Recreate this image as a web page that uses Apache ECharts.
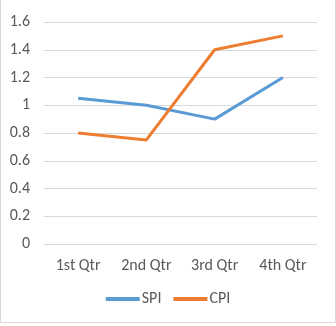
<!DOCTYPE html>
<html><head><meta charset="utf-8">
<script src="https://cdn.jsdelivr.net/npm/echarts@6/dist/echarts.min.js"></script>
<style>
html,body{margin:0;padding:0;background:#fff;}
#frame{position:absolute;left:0;top:-2px;width:334px;height:323px;border:1px solid #d9d9d9;box-sizing:content-box;}
#c{position:absolute;left:0;top:0;width:336px;height:326px;}
</style></head>
<body>
<div id="frame"></div>
<div id="c"></div>
<script>
const categories = ['1st Qtr', '2nd Qtr', '3rd Qtr', '4th Qtr'];
const spi = [1.05, 1.0, 0.9, 1.2];
const cpi = [0.8, 0.75, 1.4, 1.5];
const yTicks = { min: 0, max: 1.6, interval: 0.2 };

const chart = echarts.init(document.getElementById('c'), null, { renderer: 'canvas' });
const font = 'Calibri, Carlito, "Liberation Sans", "Open Sans", sans-serif';
chart.setOption({
  animation: false,
  textStyle: { fontFamily: font },
  grid: { left: 44, right: 19, top: 22, bottom: 82, containLabel: false },
  legend: {
    bottom: 14, left: 'center', itemWidth: 34, itemHeight: 4, itemGap: 12,
    icon: 'rect',
    textStyle: { color: '#595959', fontSize: 16, fontFamily: font, padding: [0, 0, 0, -3] },
    data: ['SPI', 'CPI']
  },
  xAxis: {
    type: 'category', data: categories, boundaryGap: true,
    axisLine: { show: false }, axisTick: { show: false },
    axisLabel: { color: '#595959', fontSize: 16, margin: 14, fontFamily: font }
  },
  yAxis: {
    type: 'value', min: yTicks.min, max: yTicks.max, interval: yTicks.interval,
    axisLabel: { color: '#595959', fontSize: 16, margin: 14, fontFamily: font,
      formatter: v => String(Math.round(v * 10) / 10) },
    splitLine: { lineStyle: { color: '#d9d9d9', width: 1 } },
    axisLine: { show: false }, axisTick: { show: false }
  },
  series: [
    { name: 'SPI', type: 'line', data: spi, showSymbol: false, symbol: 'none',
      lineStyle: { color: '#5B9BD5', width: 3 }, itemStyle: { color: '#5B9BD5' } },
    { name: 'CPI', type: 'line', data: cpi, showSymbol: false, symbol: 'none',
      lineStyle: { color: '#ED7D31', width: 3 }, itemStyle: { color: '#ED7D31' } }
  ]
});
</script>
</body></html>
